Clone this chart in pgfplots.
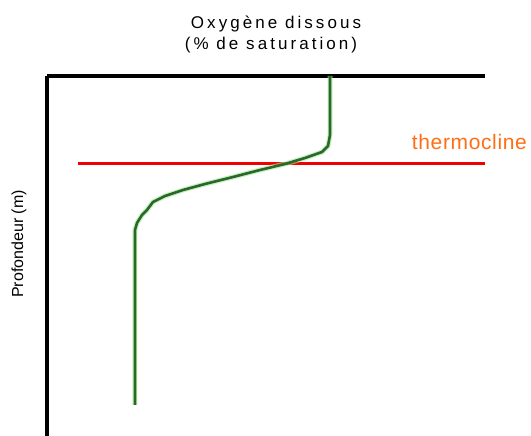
\documentclass[border=0pt]{standalone}
\usepackage{pgfplots}
\pgfplotsset{compat=1.18}
\usepackage{fontspec}
\setmainfont{Liberation Sans}
\newfontfamily\titlefont[LetterSpace=18]{Liberation Sans}
\newfontfamily\thermofont[LetterSpace=3]{Liberation Sans}
\definecolor{curvegreen}{RGB}{40,105,40}
\definecolor{halogreen}{RGB}{170,230,160}
\definecolor{thermoorange}{RGB}{255,110,20}
\definecolor{thermored}{RGB}{240,0,0}
\begin{document}
\begin{tikzpicture}
\begin{axis}[
  scale only axis,
  width=438pt, height=360pt,
  xmin=47, xmax=485, ymin=-436, ymax=-76,
  axis x line=top, axis y line=left,
  axis line style={line width=3.5pt, -, black},
  xtick=\empty, ytick=\empty,
  clip=false,
]
% thermocline
\addplot[thermored, line width=3pt] coordinates {(78,-164) (485,-164)};
% oxygen profile (halo + line)
\addplot[halogreen, line width=5pt, opacity=0.6, line join=round] coordinates {
(330,-76) (330,-135) (328,-146) (322,-152) (305,-158) (285,-164) (260,-170)
(233,-177) (205,-184) (183,-190) (165,-196) (153,-202) (147,-210) (142,-215)
(137,-223) (135,-230) (135,-405)};
\addplot[curvegreen, line width=2.6pt, line join=round] coordinates {
(330,-76) (330,-135) (328,-146) (322,-152) (305,-158) (285,-164) (260,-170)
(233,-177) (205,-184) (183,-190) (165,-196) (153,-202) (147,-210) (142,-215)
(137,-223) (135,-230) (135,-405)};
\node[anchor=base, inner sep=0pt] at (axis cs:276,-29) {\titlefont\fontsize{17}{20}\selectfont Oxygène dissous};
\node[anchor=base, inner sep=0pt] at (axis cs:271,-50) {\titlefont\fontsize{17}{20}\selectfont (\% de saturation)};
\node[rotate=90, inner sep=0pt] at (axis cs:19,-244) {\fontsize{16}{19}\selectfont Profondeur (m)};
\node[anchor=base east, inner sep=0pt, text=thermoorange] at (axis cs:527,-150) {\thermofont\fontsize{21}{25}\selectfont thermocline};
\end{axis}
\pgfresetboundingbox
\useasboundingbox (-47pt,0pt) rectangle (484pt,436pt);
\end{tikzpicture}
\end{document}
